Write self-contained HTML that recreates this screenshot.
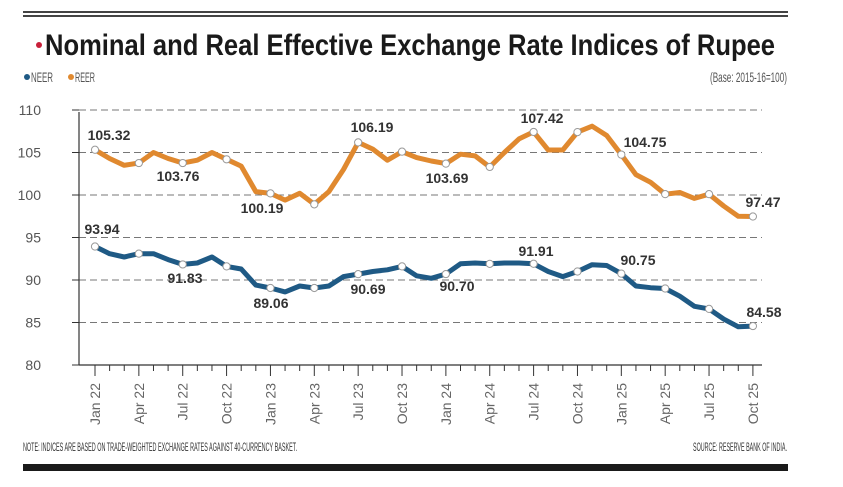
<!DOCTYPE html>
<html><head><meta charset="utf-8"><style>
html,body{margin:0;padding:0;background:#fff;}
svg{display:block;font-family:"Liberation Sans",sans-serif;}
</style></head><body>
<svg id="s" width="843" height="487" viewBox="0 0 843 487" xmlns="http://www.w3.org/2000/svg">
<rect width="843" height="487" fill="#fff"/>
<rect x="23" y="11" width="765" height="2" fill="#444"/>
<rect x="23" y="15" width="765" height="2" fill="#444"/>
<circle cx="39" cy="45" r="3" fill="#c8203a"/>
<text x="45" y="55" font-size="30" font-weight="bold" fill="#1a1a1a" textLength="730" lengthAdjust="spacingAndGlyphs">Nominal and Real Effective Exchange Rate Indices of Rupee</text>
<circle cx="27" cy="77" r="3" fill="#1f5a85"/>
<text x="31" y="82" font-size="14" fill="#555" textLength="22" lengthAdjust="spacingAndGlyphs">NEER</text>
<circle cx="71" cy="77" r="3" fill="#e0892f"/>
<text x="75" y="82" font-size="14" fill="#555" textLength="20" lengthAdjust="spacingAndGlyphs">REER</text>
<text x="787" y="82" font-size="14" fill="#555" text-anchor="end" textLength="77" lengthAdjust="spacingAndGlyphs">(Base: 2015-16=100)</text>
<g id="grid"></g>
<g id="series"></g>
<text x="23" y="451" font-size="12" fill="#333" textLength="274" lengthAdjust="spacingAndGlyphs">NOTE: INDICES ARE BASED ON TRADE-WEIGHTED EXCHANGE RATES AGAINST 40-CURRENCY BASKET.</text>
<text x="787" y="451" font-size="12" fill="#333" text-anchor="end" textLength="94" lengthAdjust="spacingAndGlyphs">SOURCE: RESERVE BANK OF INDIA.</text>
<rect x="23" y="464" width="765" height="7" fill="#1a1a1a"/>
</svg>
<script>
var NS="http://www.w3.org/2000/svg";
function el(p,t,a,txt){var e=document.createElementNS(NS,t);for(var k in a)e.setAttribute(k,a[k]);if(txt!==undefined)e.textContent=txt;p.appendChild(e);return e;}
var g=document.getElementById('grid'),sg=document.getElementById('series');
function Y(v){return 365-(v-80)*8.5;}
function X(i){return 95+i*14.62;}
for(var v=80;v<=110;v+=5){
  var y=Y(v);
  if(v>80) el(g,'line',{x1:79,x2:762,y1:y,y2:y,stroke:'#777','stroke-width':1,'stroke-dasharray':'7,4'});
  el(g,'line',{x1:72,x2:79,y1:y,y2:y,stroke:'#333','stroke-width':1});
  el(g,'text',{x:41,y:y+5,'font-size':14,fill:'#555','text-anchor':'end'},v);
}
el(g,'line',{x1:79,x2:79,y1:112,y2:365,stroke:'#333','stroke-width':1.2});
el(g,'line',{x1:79,x2:762,y1:365,y2:365,stroke:'#333','stroke-width':1.2});
var mn=['Jan','Apr','Jul','Oct'];
for(var i=0;i<46;i++){
  var x=X(i),q=i%3==0;
  el(g,'line',{x1:x,x2:x,y1:365,y2:q?376:371,stroke:'#333','stroke-width':1});
  if(q){
    var lab=mn[(i/3)%4]+' '+(22+Math.floor(i/12));
    el(g,'text',{x:0,y:0,'font-size':14,fill:'#666','text-anchor':'end',transform:'translate('+(x+5)+',383) rotate(-90)'},lab);
  }
}
var reer=[105.32,104.3,103.5,103.76,105.0,104.3,103.76,104.1,105.0,104.2,103.4,100.4,100.19,99.4,100.2,98.9,100.4,103.0,106.19,105.4,104.1,105.1,104.4,104.0,103.69,104.8,104.6,103.3,105.0,106.6,107.42,105.3,105.3,107.4,108.1,107.0,104.75,102.4,101.5,100.1,100.3,99.6,100.1,98.7,97.5,97.47];
var neer=[93.94,93.1,92.7,93.1,93.1,92.4,91.83,92.0,92.7,91.6,91.3,89.4,89.06,88.6,89.3,89.06,89.3,90.4,90.69,91.0,91.2,91.6,90.5,90.2,90.70,91.9,92.0,91.9,92.0,92.0,91.91,91.0,90.4,91.0,91.8,91.7,90.75,89.3,89.1,89.0,88.1,86.9,86.6,85.4,84.5,84.58];
function draw(d,c){
  var p=d.map(function(v,i){return X(i).toFixed(1)+','+Y(v).toFixed(1);}).join(' ');
  el(sg,'polyline',{points:p,fill:'none',stroke:c,'stroke-width':5,'stroke-linejoin':'round','stroke-linecap':'round'});
  for(var i=0;i<46;i+=3) el(sg,'circle',{cx:X(i),cy:Y(d[i]),r:3.6,fill:'#fff',stroke:'#999','stroke-width':1});
}
draw(reer,'#e0892f');draw(neer,'#1f5a85');
var labs=[['105.32',109,135],['103.76',178,176],['100.19',262,208],['106.19',372,127],['103.69',447,178],['107.42',542,118],['104.75',645,142],['97.47',763,202],
['93.94',102,229],['91.83',185,278],['89.06',271,303],['90.69',368,289],['90.70',457,286],['91.91',536,251],['90.75',638,260],['84.58',764,312]];
labs.forEach(function(l){el(sg,'text',{x:l[1],y:l[2]+5,'font-size':14,'font-weight':'bold',fill:'#333','text-anchor':'middle'},l[0]);});
</script>
</body></html>
